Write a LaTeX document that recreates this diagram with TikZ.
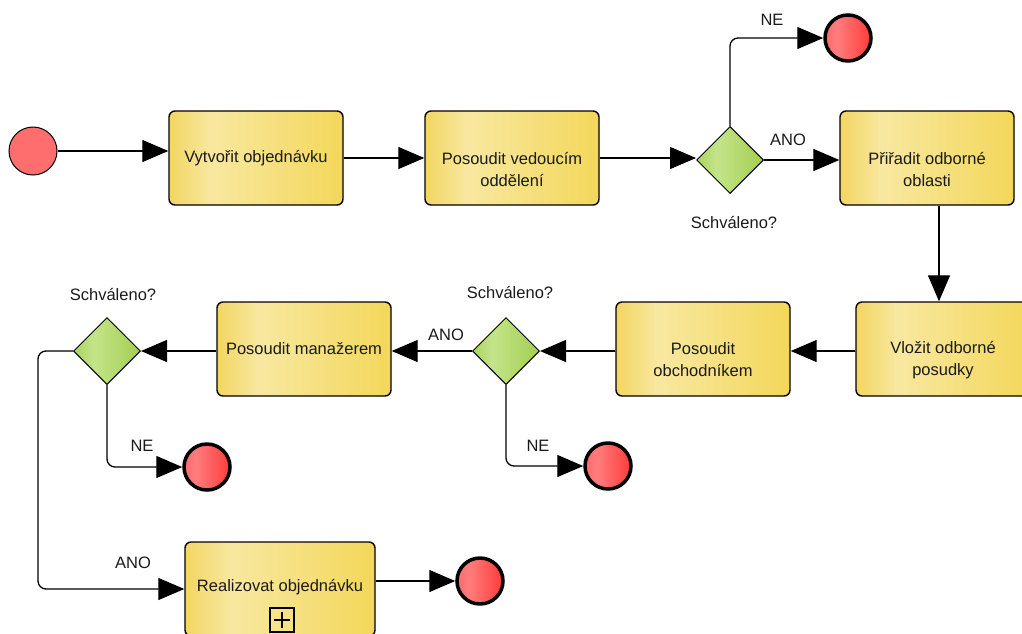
\documentclass[tikz,border=0pt]{standalone}
\usepackage{fontspec}
\setmainfont{Liberation Sans}
\usetikzlibrary{arrows.meta,shapes.geometric}

% palette
\definecolor{taskA}{RGB}{242,213,98}
\definecolor{taskB}{RGB}{248,232,160}
\definecolor{taskC}{RGB}{243,215,90}
\definecolor{gwA}{RGB}{170,211,94}
\definecolor{gwB}{RGB}{196,228,138}
\definecolor{gwC}{RGB}{163,206,80}
\definecolor{evA}{RGB}{255,105,105}
\definecolor{evB}{RGB}{255,125,125}
\definecolor{evC}{RGB}{255,58,58}
\definecolor{startred}{RGB}{255,110,110}
\definecolor{ink}{RGB}{26,26,26}

% left-to-right fills (path spans 25bp..75bp)
\pgfdeclarehorizontalshading{taskfill}{100bp}{color(0bp)=(taskA); color(25bp)=(taskA); color(37bp)=(taskB); color(75bp)=(taskC); color(100bp)=(taskC)}
\pgfdeclarehorizontalshading{gwfill}{100bp}{color(0bp)=(gwA); color(25bp)=(gwA); color(40bp)=(gwB); color(75bp)=(gwC); color(100bp)=(gwC)}
\pgfdeclarehorizontalshading{evfill}{100bp}{color(0bp)=(evA); color(25bp)=(evA); color(38bp)=(evB); color(75bp)=(evC); color(100bp)=(evC)}

\begin{document}
\begin{tikzpicture}[x=1pt,y=-1pt,
  font=\fontsize{16.5}{22}\selectfont,
  task/.style={rectangle, rounded corners=6pt, draw=black, line width=1.4pt,
    shade, shading=taskfill, minimum width=174pt, minimum height=94pt,
    inner sep=0pt, text=ink, align=center},
  gateway/.style={diamond, aspect=1, draw=black, line width=1pt,
    shade, shading=gwfill, minimum width=67pt, minimum height=67pt, inner sep=0pt},
  endev/.style={circle, draw=black, line width=3.5pt, shade, shading=evfill,
    minimum size=46pt, inner sep=0pt},
  startev/.style={circle, draw=black, line width=1pt, fill=startred,
    minimum size=48pt, inner sep=0pt},
  flow/.style={draw=black, line width=1.3pt, rounded corners=8pt,
    -{Triangle[length=26pt,width=22pt]}},
  tasktext/.style={text=ink, align=center, inner sep=0pt},
  lbl/.style={text=ink, inner sep=0pt}]

\clip (0,0) rectangle (1022,633);

% events
\node[startev] (start) at (33,151) {};
\node[endev] (e1) at (848,38) {};
\node[endev] (e2) at (608,466) {};
\node[endev] (e3) at (207,467) {};
\node[endev] (e4) at (480,581) {};

% tasks
\node[task] (t1) at (256,158) {Vytvořit objednávku};
\node[task] (t2) at (512,158) {};
\node[tasktext] (t2l) at ([yshift=-11pt]t2.center) {Posoudit vedoucím\\oddělení};
\node[task] (t3) at (927,158) {};
\node[tasktext] (t3l) at ([yshift=-11pt]t3.center) {Přiřadit odborné\\oblasti};
\node[task] (t4) at (943,349) {};
\node[tasktext] (t4l) at ([yshift=-11pt]t4.center) {Vložit odborné\\posudky};
\node[task] (t5) at (703,349) {};
\node[tasktext] (t5l) at ([yshift=-11pt]t5.center) {Posoudit\\obchodníkem};
\node[task] (t6) at (304,349) {Posoudit manažerem};
\node[task, minimum width=190pt] (t7) at (280,589) {};
\node[tasktext] (t7l) at ([yshift=2pt]t7.center) {Realizovat objednávku};

% collapsed sub-process marker
\node[draw=black, line width=1.2pt, minimum size=24pt, inner sep=0pt] (mk) at (282,620) {};
\draw[line width=1.2pt] ([xshift=-8pt]mk.center) -- ([xshift=8pt]mk.center);
\draw[line width=1.2pt] ([yshift=-8pt]mk.center) -- ([yshift=8pt]mk.center);

% gateways
\node[gateway] (g1) at (730,160) {};
\node[gateway] (g2) at (506,351) {};
\node[gateway] (g3) at (107,351) {};

% gateway captions
\node[lbl] (g1c) at (734,222) {Schváleno?};
\node[lbl] (g2c) at (510,292) {Schváleno?};
\node[lbl] (g3c) at (113,294) {Schváleno?};

% sequence flows
\coordinate (down) at (939,0);
\coordinate (back) at (38,0);

\draw[flow] (start.east) -- (start.east -| t1.west);
\draw[flow] (t1) -- (t2);
\draw[flow] (t2.east) -- (t2.east -| g1.west);
\draw[flow] (g1.north) |- (e1.west);
\draw[flow] (g1.east) -- (t3.west |- g1.east);
\draw[flow] (t3.south -| down) -- (t4.north -| down);
\draw[flow] (t4.west |- g2.east) -- (t5.east |- g2.east);
\draw[flow] (t5.west |- g2.east) -- (g2.east);
\draw[flow] (g2.south) |- (e2.west);
\draw[flow] (g2.west) -- (t6.east |- g2.west);
\draw[flow] (t6.west |- g3.east) -- (g3.east);
\draw[flow] (g3.south) |- (e3.west);
\draw[flow] (g3.west) -| (back |- t7.west) -- (t7.west);
\draw[flow] (t7.east |- e4.west) -- (e4.west);

% flow labels
\node[lbl] (l1) at (772,20) {NE};
\node[lbl] (l2) at (788,140) {ANO};
\node[lbl] (l3) at (446,335) {ANO};
\node[lbl] (l4) at (538,446) {NE};
\node[lbl] (l5) at (142,446) {NE};
\node[lbl] (l6) at (133,563) {ANO};

\end{tikzpicture}
\end{document}
